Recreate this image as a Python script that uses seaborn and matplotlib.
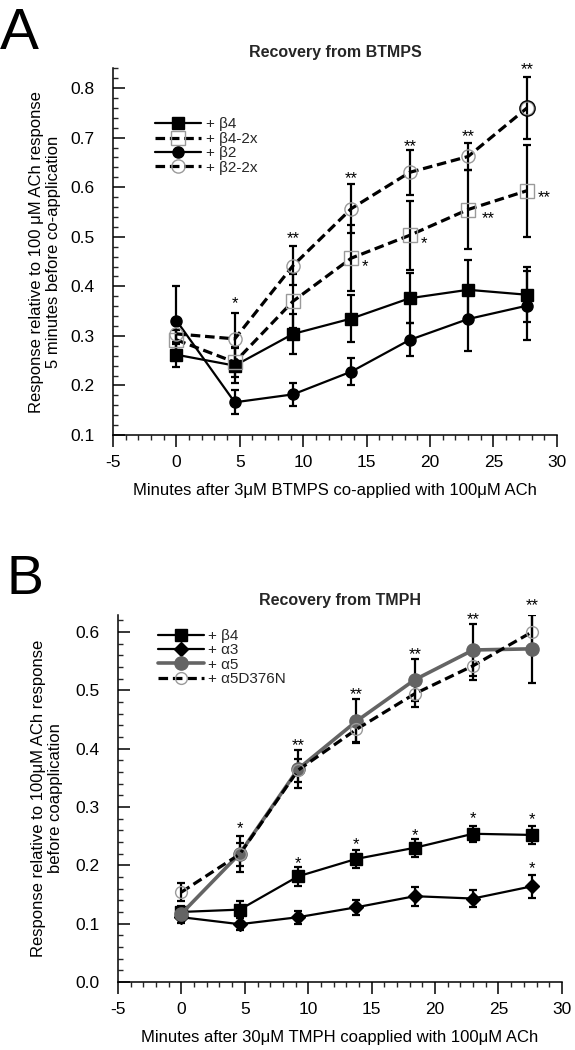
import numpy as np
import pandas as pd
import matplotlib
matplotlib.use("Agg")
import matplotlib.pyplot as plt
import seaborn as sns
from matplotlib.ticker import MultipleLocator, FormatStrFormatter

sns.set_theme(style="ticks")
plt.rcParams["font.family"] = ["Liberation Sans", "DejaVu Sans"]
plt.rcParams["axes.linewidth"] = 1.1
plt.rcParams["axes.unicode_minus"] = False

# ---------------- data ----------------
minutes = [0, 4.6, 9.2, 13.8, 18.4, 23.0, 27.65]

# Panel A: recovery from BTMPS
a_b4 = [0.262, 0.240, 0.304, 0.335, 0.376, 0.393, 0.383]
a_b4_err = [0.025, 0.035, 0.040, 0.047, 0.050, 0.060, 0.055]
a_b4x2 = [0.292, 0.247, 0.370, 0.457, 0.503, 0.555, 0.593]
a_b4x2_err = [0.020, 0.030, 0.055, 0.067, 0.070, 0.080, 0.093]
a_b2 = [0.331, 0.166, 0.182, 0.228, 0.292, 0.334, 0.361]
a_b2_err = [0.070, 0.024, 0.023, 0.027, 0.033, 0.065, 0.070]
a_b2x2 = [0.304, 0.294, 0.442, 0.557, 0.630, 0.662, 0.760]
a_b2x2_err = [0.020, 0.052, 0.040, 0.050, 0.045, 0.028, 0.062]
a_labels = ["+ β4", "+ β4-2x", "+ β2", "+ β2-2x"]

# significance marks panel A (x, y, text, side)
a_star_x = [4.6, 9.2, 13.8, 18.4, 23.0, 27.65, 14.6, 19.3, 24.05, 28.5]
a_star_y = [0.376, 0.507, 0.628, 0.692, 0.713, 0.848, 0.449, 0.497, 0.547, 0.588]
a_star_t = ["*", "**", "**", "**", "**", "**", "*", "*", "**", "**"]
a_star_side = [False] * 6 + [True] * 4

# Panel B: recovery from TMPH
b_b4 = [0.120, 0.124, 0.181, 0.211, 0.230, 0.254, 0.252]
b_b4_err = [0.010, 0.014, 0.016, 0.015, 0.015, 0.014, 0.015]
b_a3 = [0.111, 0.099, 0.111, 0.128, 0.147, 0.143, 0.164]
b_a3_err = [0.010, 0.010, 0.011, 0.013, 0.016, 0.014, 0.020]
b_a5 = [0.117, 0.220, 0.365, 0.447, 0.518, 0.569, 0.571]
b_a5_err = [0.010, 0.031, 0.032, 0.038, 0.036, 0.045, 0.058]
b_a5dn = [0.154, 0.219, 0.363, 0.433, 0.494, 0.542, 0.600]
b_a5dn_err = [0.016, 0.020, 0.020, 0.022, 0.023, 0.025, 0.030]
b_labels = ["+ β4", "+ α3", "+ α5", "+ α5D376N"]

b_star_x = [4.6, 9.2, 13.8, 18.4, 23.0, 27.65, 27.65, 9.2, 13.8, 18.4, 23.0, 27.65]
b_star_y = [0.271, 0.211, 0.244, 0.260, 0.289, 0.286, 0.203, 0.414, 0.501, 0.569, 0.630, 0.653]
b_star_t = ["*", "*", "*", "*", "*", "*", "*", "**", "**", "**", "**", "**"]

x_ticks = [-5, 0, 5, 10, 15, 20, 25, 30]

GRAY_LIGHT = "#9a9a9a"
GRAY_DARK = "#646464"
DASH = (0, (3.0, 1.5))

# ---------------- figure ----------------
fig = plt.figure(figsize=(5.75, 10.5), dpi=100)
axA = fig.add_axes([0.1965, 0.5857, 0.772, 0.3493])
axB = fig.add_axes([0.2052, 0.0648, 0.772, 0.3495])


def series(ax, y, err, label, color, ls, lw, marker, ms, mfc, mec, mew=1.0):
    ax.errorbar(minutes, y, yerr=err, fmt="none", ecolor="black",
                elinewidth=1.6, capsize=3.2, capthick=1.6, zorder=2)
    df = pd.DataFrame({"minutes": minutes, "value": y})
    sns.lineplot(data=df, x="minutes", y="value", ax=ax, color=color,
                 linestyle=ls, linewidth=lw, marker=marker, markersize=ms,
                 markerfacecolor=mfc, markeredgecolor=mec,
                 markeredgewidth=mew, label=label, zorder=3)


def style_axes(ax, ylim, ymajor):
    ax.set_xlim(-5, 30)
    ax.set_ylim(*ylim)
    ax.set_xticks(x_ticks)
    ax.xaxis.set_minor_locator(MultipleLocator(1))
    ax.yaxis.set_major_locator(MultipleLocator(ymajor))
    ax.yaxis.set_minor_locator(MultipleLocator(0.02))
    ax.yaxis.set_major_formatter(FormatStrFormatter("%.1f"))
    ax.tick_params(axis="x", which="major", direction="out", length=8.6,
                   width=1.1, pad=6, labelsize=12.5, colors="black")
    ax.tick_params(axis="x", which="minor", direction="out", length=3.6,
                   width=1.0)
    ax.tick_params(axis="y", which="major", direction="in", length=8.6,
                   width=1.1, pad=13, labelsize=12.5, colors="black")
    ax.tick_params(axis="y", which="minor", direction="in", length=3.6,
                   width=1.0)
    sns.despine(ax=ax)
    for s in ("left", "bottom"):
        ax.spines[s].set_color("black")
        ax.spines[s].set_linewidth(1.1)


LEG_KW = dict(loc="upper left", frameon=False, fontsize=11, handlelength=3.0,
              handletextpad=0.3, labelspacing=0.03, borderpad=0,
              borderaxespad=0)

# ---- Panel A ----
series(axA, a_b4, a_b4_err, a_labels[0], "black", "-", 1.6, "s", 8.4,
       "black", "black")
series(axA, a_b4x2, a_b4x2_err, a_labels[1], "black", DASH, 2.3, "s", 9.5,
       "none", GRAY_LIGHT)
series(axA, a_b2, a_b2_err, a_labels[2], "black", "-", 1.6, "o", 8.0,
       "black", "black")
series(axA, a_b2x2, a_b2x2_err, a_labels[3], "black", DASH, 2.3, "o", 9.5,
       "none", GRAY_LIGHT)
# last β2-2x point drawn with the larger dark outline seen in the original
axA.plot(minutes[-1:], a_b2x2[-1:], linestyle="none", marker="o",
         markersize=11, markerfacecolor="none", markeredgecolor="black",
         markeredgewidth=1.0, zorder=4)

for x, y, t, side in zip(a_star_x, a_star_y, a_star_t, a_star_side):
    axA.annotate(t, xy=(x, y), xytext=(0, -6.8), textcoords="offset points",
                 ha="left" if side else "center", va="baseline", fontsize=12,
                 annotation_clip=False, color="black")

style_axes(axA, (0.1, 0.840), 0.1)
axA.set_title("Recovery from BTMPS", fontsize=11.5, fontweight="bold", pad=8)
axA.set_xlabel("Minutes after 3μM BTMPS co-applied with 100μM ACh",
               fontsize=12, labelpad=9, color="black")
axA.set_ylabel("Response relative to 100 μM ACh response\n"
               "5 minutes before co-application", fontsize=12,
               color="black", linespacing=1.15)
axA.yaxis.set_label_coords(-0.117, 0.5)
axA.legend(bbox_to_anchor=(0.095, 0.866), **LEG_KW)

# ---- Panel B ----
series(axB, b_b4, b_b4_err, b_labels[0], "black", "-", 1.6, "s", 8.4,
       "black", "black")
series(axB, b_a3, b_a3_err, b_labels[1], "black", "-", 1.6, "D", 7.4,
       "black", "black")
series(axB, b_a5, b_a5_err, b_labels[2], GRAY_DARK, "-", 2.6, "o", 9.5,
       GRAY_DARK, GRAY_DARK)
series(axB, b_a5dn, b_a5dn_err, b_labels[3], "black", DASH, 2.3, "o", 8.5,
       "none", GRAY_LIGHT)

for x, y, t in zip(b_star_x, b_star_y, b_star_t):
    axB.annotate(t, xy=(x, y), xytext=(0, -6.8), textcoords="offset points",
                 ha="center", va="baseline", fontsize=12,
                 annotation_clip=False, color="black")

style_axes(axB, (0.0, 0.629), 0.1)
axB.set_title("Recovery from TMPH", fontsize=11.5, fontweight="bold", pad=7)
axB.set_xlabel("Minutes after 30μM TMPH coapplied with 100μM ACh",
               fontsize=12, labelpad=9, color="black")
axB.set_ylabel("Response relative to 100μM ACh response\n"
               "before coapplication", fontsize=12, color="black",
               linespacing=1.15)
axB.yaxis.set_label_coords(-0.124, 0.5)
axB.legend(bbox_to_anchor=(0.09, 0.962), **LEG_KW)

# panel letters
fig.text(0.0, 1 - 49 / 1050, "A", fontsize=42, va="baseline", ha="left",
         color="black")
fig.text(0.012, 1 - 594 / 1050, "B", fontsize=40, va="baseline", ha="left",
         color="black")

fig.savefig("out.png", dpi=100, facecolor="white")
